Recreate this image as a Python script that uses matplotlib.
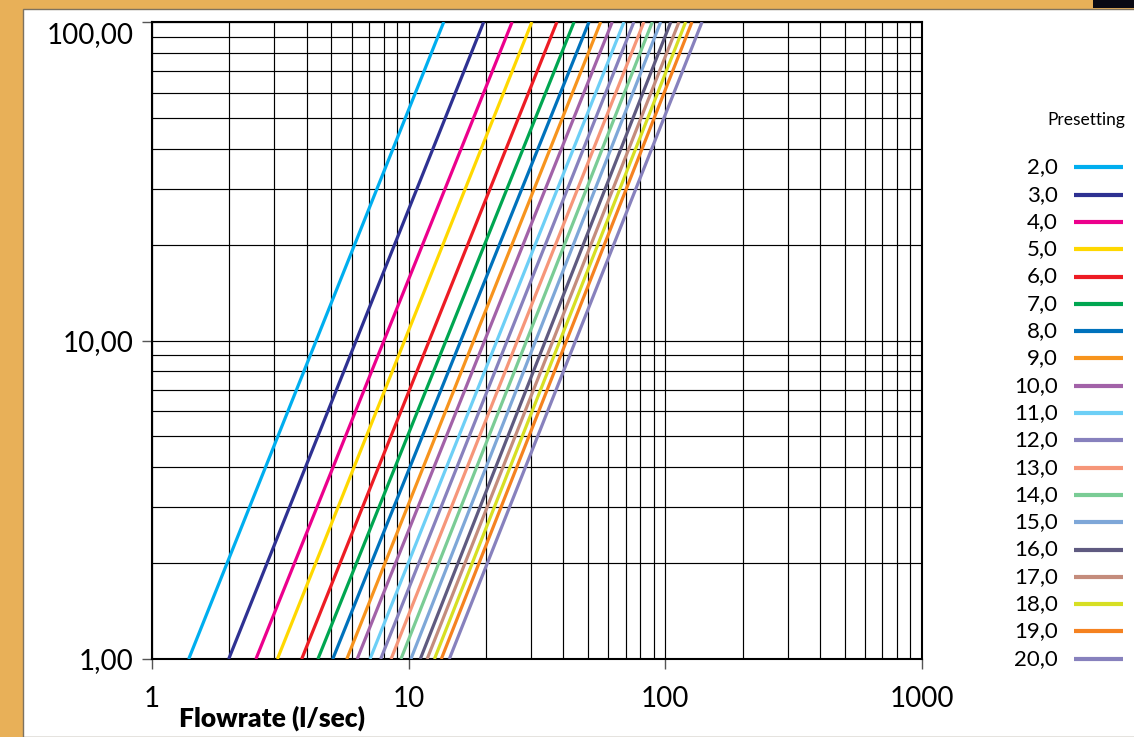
import matplotlib
matplotlib.use('Agg')
import matplotlib.pyplot as plt
from matplotlib.patches import Rectangle
from matplotlib.lines import Line2D

plt.rcParams['font.family'] = ['Lato', 'DejaVu Sans']

# presetting curves: flowrate read where each line crosses 1,00 and 100,00
presets = ['2,0', '3,0', '4,0', '5,0', '6,0', '7,0', '8,0', '9,0', '10,0', '11,0',
           '12,0', '13,0', '14,0', '15,0', '16,0', '17,0', '18,0', '19,0', '20,0']
flow_at_1 = [1.39, 1.99, 2.54, 3.08, 3.83, 4.43, 5.06, 5.74, 6.30, 7.07,
             7.78, 8.54, 9.33, 10.2, 11.1, 11.8, 12.6, 13.4, 14.4]
flow_at_100 = [13.7, 19.6, 25.3, 30.2, 37.8, 44.1, 50.4, 56.0, 62.1, 69.0,
               75.4, 82.5, 89.0, 95.9, 105, 113, 120, 127, 139]
dp_ends = [1, 100]
colors = ['#00aeef', '#2e3192', '#ec008c', '#ffd800', '#ed1c24', '#00a651',
          '#0072bc', '#f7941d', '#a262a8', '#6dcff6', '#8781bd', '#f69679',
          '#7acc95', '#7ea7d8', '#5f5a80', '#c48c7c', '#d7df23', '#f58220',
          '#8781bd']

x_ticks = [1, 10, 100, 1000]
x_ticklabels = ['1', '10', '100', '1000']
y_ticks = [1, 10, 100]
y_ticklabels = ['1,00', '10,00', '100,00']

W, H = 1134, 737
fig = plt.figure(figsize=(W / 100, H / 100), dpi=100)
fig.patch.set_facecolor('#e8b058')

# white panel over the sandy background
fig.add_artist(Rectangle((23 / W, 0), 1, 1 - 9 / H, transform=fig.transFigure,
                         facecolor='white', edgecolor='#7d7260', lw=1, zorder=0))
fig.add_artist(Rectangle((1093 / W, 1 - 8 / H), 1, 1, transform=fig.transFigure,
                         facecolor='#0a0a14', edgecolor='none', zorder=0))

ax = fig.add_axes([152 / W, 1 - 659 / H, (922 - 152) / W, (659 - 22) / H])
ax.set_facecolor('white')
ax.set_xscale('log')
ax.set_yscale('log')

for q1, q2, c in zip(flow_at_1, flow_at_100, colors):
    ax.plot([q1, q2], dp_ends, color=c, lw=2.3, solid_capstyle='butt', zorder=3)

ax.set_xlim(1, 1000)
ax.set_ylim(1, 100)
ax.grid(which='both', color='black', lw=0.85)
ax.set_xticks(x_ticks)
ax.set_xticklabels(x_ticklabels)
ax.set_yticks(y_ticks)
ax.set_yticklabels(y_ticklabels)
ax.tick_params(which='minor', length=0)
ax.tick_params(which='major', length=7.5, width=1, color='#555555', labelsize=20)
ax.tick_params(axis='x', pad=12)
ax.tick_params(axis='y', pad=6)
for s in ax.spines.values():
    s.set_linewidth(1.5)
    s.set_color('black')
# top label sits a little lower in the original
ax.get_yticklabels()[-1].set_va('top')

fig.text(179 / W, 1 - 718 / H, 'Flowrate (l/sec)', fontsize=19, fontweight='heavy',
         va='center', ha='left')

# legend
fig.text(1125 / W, 1 - 120 / H, 'Presetting', fontsize=12.5, ha='right', va='center')
for i, (lab, c) in enumerate(zip(presets, colors)):
    yy = 1 - (167.3 + 27.3 * i) / H
    fig.text(1058 / W, yy, lab, fontsize=16, ha='right', va='center')
    fig.add_artist(Line2D([1074 / W, 1123 / W], [yy, yy], transform=fig.transFigure,
                          color=c, lw=3, solid_capstyle='butt'))

fig.savefig('out.png', dpi=100, facecolor=fig.get_facecolor())
